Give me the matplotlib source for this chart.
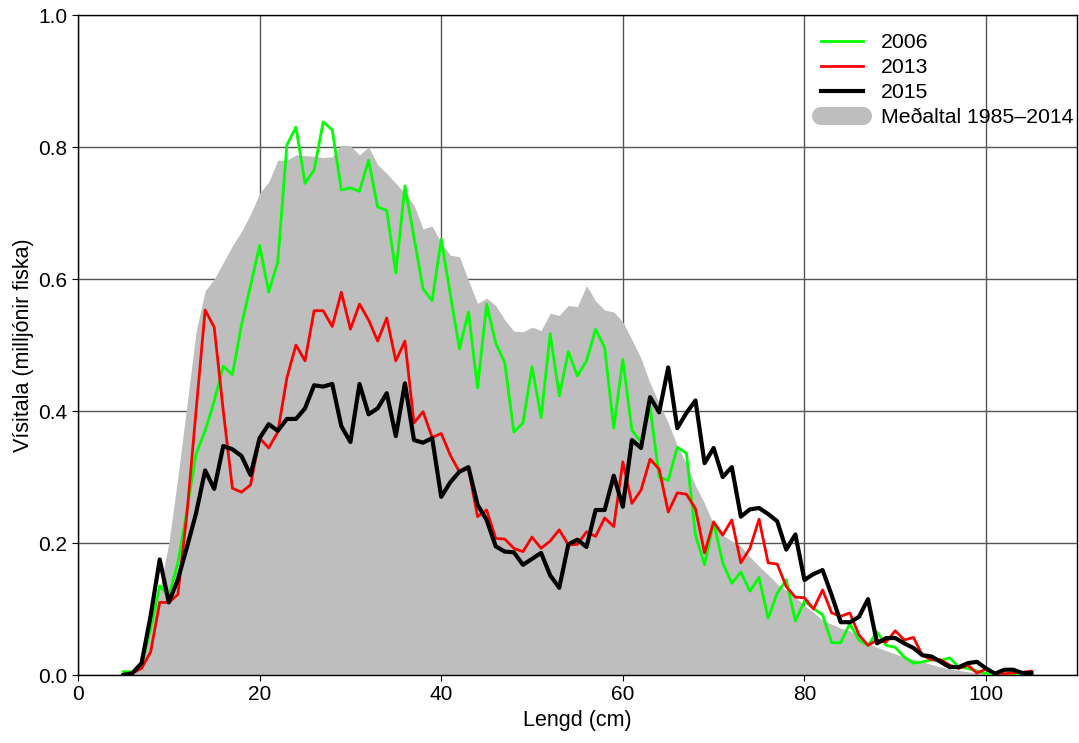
import matplotlib
matplotlib.use('Agg')
import matplotlib.pyplot as plt
from matplotlib.lines import Line2D
from matplotlib.ticker import FormatStrFormatter
import numpy as np

plt.rcParams['font.family'] = ['Liberation Sans', 'DejaVu Sans']

# length classes (cm)
lengd = np.arange(5, 106)

# index values (millions of fish)
y2006 = [0.005, 0.005, 0.015, 0.07, 0.135, 0.12, 0.17, 0.25, 0.335, 0.37,
         0.415, 0.468, 0.455, 0.53, 0.59, 0.651, 0.58, 0.626, 0.803, 0.83,
         0.745, 0.765, 0.838, 0.826, 0.735, 0.738, 0.733, 0.78, 0.709, 0.704,
         0.609, 0.741, 0.663, 0.585, 0.567, 0.66, 0.577, 0.494, 0.55, 0.435,
         0.562, 0.503, 0.473, 0.368, 0.382, 0.467, 0.39, 0.517, 0.423, 0.49,
         0.453, 0.476, 0.524, 0.496, 0.374, 0.478, 0.371, 0.353, 0.406, 0.30,
         0.295, 0.345, 0.336, 0.212, 0.167, 0.232, 0.17, 0.139, 0.156, 0.127,
         0.148, 0.086, 0.124, 0.144, 0.082, 0.112, 0.101, 0.091, 0.049, 0.049,
         0.078, 0.053, 0.045, 0.065, 0.045, 0.042, 0.027, 0.018, 0.02, 0.023,
         0.022, 0.026, 0.012, 0.01, 0.006, 0.002, 0.001, 0.001, 0.0, 0.0,
         0.0]

y2013 = [0.0, 0.003, 0.01, 0.035, 0.11, 0.11, 0.122, 0.245, 0.40, 0.553,
         0.527, 0.40, 0.283, 0.277, 0.288, 0.359, 0.344, 0.368, 0.45, 0.50,
         0.476, 0.552, 0.552, 0.528, 0.58, 0.524, 0.562, 0.538, 0.506, 0.541,
         0.476, 0.506, 0.382, 0.399, 0.36, 0.366, 0.333, 0.308, 0.313, 0.24,
         0.25, 0.207, 0.206, 0.192, 0.187, 0.209, 0.192, 0.203, 0.22, 0.197,
         0.198, 0.217, 0.21, 0.238, 0.225, 0.323, 0.26, 0.28, 0.327, 0.312,
         0.247, 0.276, 0.274, 0.252, 0.185, 0.232, 0.212, 0.235, 0.17, 0.192,
         0.236, 0.17, 0.168, 0.134, 0.118, 0.117, 0.1, 0.129, 0.094, 0.089,
         0.094, 0.061, 0.045, 0.053, 0.05, 0.067, 0.053, 0.057, 0.03, 0.023,
         0.023, 0.015, 0.01, 0.015, 0.003, 0.009, 0.003, 0.002, 0.003, 0.004,
         0.006]

y2015 = [0.0, 0.003, 0.018, 0.09, 0.175, 0.11, 0.145, 0.194, 0.245, 0.31,
         0.282, 0.347, 0.342, 0.332, 0.303, 0.359, 0.38, 0.37, 0.388, 0.388,
         0.404, 0.439, 0.437, 0.441, 0.377, 0.353, 0.441, 0.395, 0.404, 0.427,
         0.362, 0.442, 0.356, 0.352, 0.359, 0.27, 0.292, 0.308, 0.315, 0.258,
         0.235, 0.195, 0.187, 0.186, 0.167, 0.176, 0.185, 0.151, 0.132, 0.198,
         0.205, 0.194, 0.25, 0.25, 0.302, 0.255, 0.356, 0.344, 0.421, 0.398,
         0.466, 0.374, 0.397, 0.416, 0.321, 0.344, 0.30, 0.315, 0.24, 0.251,
         0.253, 0.244, 0.233, 0.19, 0.213, 0.144, 0.153, 0.159, 0.121, 0.08,
         0.08, 0.088, 0.115, 0.048, 0.056, 0.056, 0.048, 0.041, 0.03, 0.028,
         0.02, 0.012, 0.012, 0.018, 0.02, 0.01, 0.002, 0.008, 0.008, 0.003,
         0.003]

medaltal = [0.003, 0.006, 0.02, 0.07, 0.13, 0.2, 0.3, 0.41, 0.52, 0.582,
            0.60, 0.625, 0.65, 0.672, 0.698, 0.73, 0.747, 0.78, 0.78, 0.788,
            0.787, 0.786, 0.784, 0.785, 0.803, 0.802, 0.788, 0.8, 0.773, 0.76,
            0.745, 0.73, 0.712, 0.676, 0.68, 0.655, 0.636, 0.634, 0.598, 0.563,
            0.571, 0.56, 0.538, 0.521, 0.52, 0.527, 0.522, 0.548, 0.545, 0.56,
            0.558, 0.59, 0.567, 0.553, 0.55, 0.535, 0.508, 0.48, 0.442, 0.412,
            0.382, 0.348, 0.32, 0.287, 0.26, 0.228, 0.212, 0.203, 0.195, 0.179,
            0.165, 0.152, 0.138, 0.128, 0.118, 0.105, 0.095, 0.083, 0.077, 0.071,
            0.067, 0.058, 0.048, 0.042, 0.037, 0.032, 0.027, 0.024, 0.02, 0.016,
            0.012, 0.009, 0.007, 0.005, 0.003, 0.002, 0.002, 0.001, 0.001, 0.0,
            0.0]

fig = plt.figure(figsize=(10.79, 7.43), dpi=100)
ax = fig.add_axes([0.0723, 0.0915, 0.9257, 0.8883])

ax.fill_between(lengd, medaltal, color='#bebebe', lw=0, zorder=1)
ax.plot(lengd, y2006, color='#00ff00', lw=2, zorder=3)
ax.plot(lengd, y2013, color='#ff0000', lw=2, zorder=4)
ax.plot(lengd, y2015, color='black', lw=3, zorder=5)

ax.set_xlim(0, 110)
ax.set_ylim(0, 1.0)
ax.set_xticks([0, 20, 40, 60, 80, 100])
ax.set_yticks([0.0, 0.2, 0.4, 0.6, 0.8, 1.0])
ax.yaxis.set_major_formatter(FormatStrFormatter('%.1f'))
ax.grid(True, color='#555555', lw=1)
ax.set_axisbelow(True)
ax.tick_params(labelsize=15, length=4, direction='out')
for s in ax.spines.values():
    s.set_linewidth(1)
    s.set_color('black')

ax.set_xlabel('Lengd (cm)', fontsize=15.5, labelpad=4)
ax.set_ylabel('Vísitala (milljónir fiska)', fontsize=15.5, labelpad=3)

handles = [Line2D([], [], color='#00ff00', lw=2),
           Line2D([], [], color='#ff0000', lw=2),
           Line2D([], [], color='black', lw=3),
           Line2D([], [], color='#bebebe', lw=13, solid_capstyle='round')]
labels = ['2006', '2013', '2015', 'Meðaltal 1985–2014']
ax.legend(handles, labels, loc='upper left', bbox_to_anchor=(0.735, 0.985),
          frameon=False, fontsize=15.3, handlelength=2.0, handletextpad=0.85,
          labelspacing=0.28, borderaxespad=0)

fig.savefig('out.png', dpi=100)
